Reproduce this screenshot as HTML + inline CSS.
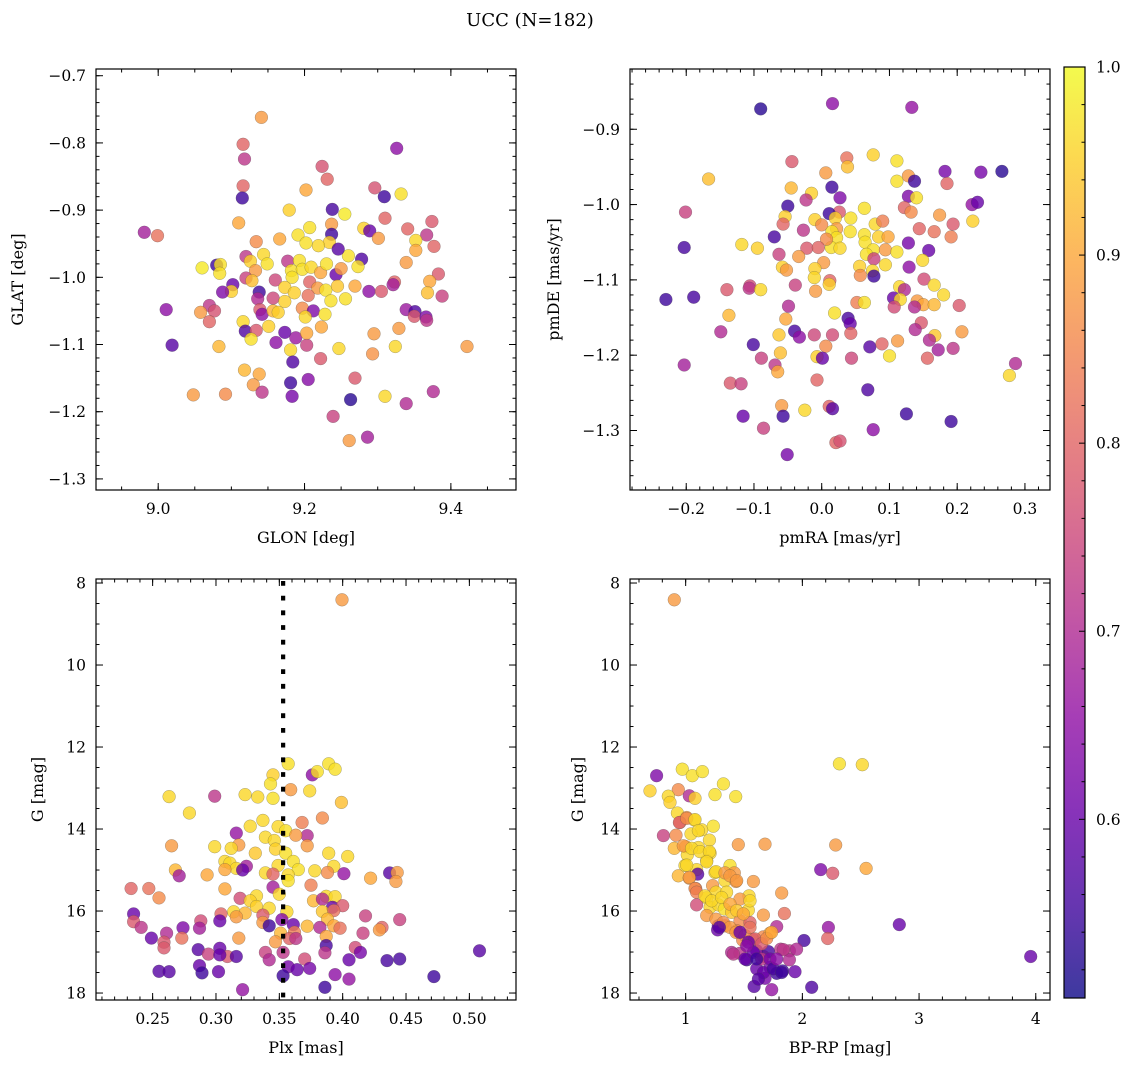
<!DOCTYPE html>
<html><head><meta charset="utf-8"><style>
html,body{margin:0;padding:0;background:#fff;}
svg{display:block;font-family:"DejaVu Serif","Liberation Serif",serif;}
</style></head><body>
<svg id="fig" width="1136" height="1067" viewBox="0 0 1136 1067" xmlns="http://www.w3.org/2000/svg">
<text x="530" y="26" font-size="18" text-anchor="middle">UCC (N=182)</text>
</svg>
<script>
// ---- Panel 1: GLON vs GLAT ----
const glon = [9.141,9.116,9.118,9.116,9.115,9.326,9.224,9.231,9.202,9.296,9.309,9.332,9.110,8.981,8.999,9.179,9.238,9.255,9.310,9.374,9.341,9.367,9.377,9.352,9.352,9.339,9.383,9.371,9.368,9.388,9.281,9.289,9.301,9.278,9.273,9.260,9.207,9.191,9.237,9.237,9.234,9.246,9.219,9.202,9.166,9.134,9.144,9.149,9.120,9.126,9.133,9.120,9.128,9.138,9.102,9.100,9.088,9.060,9.080,9.085,9.084,9.177,9.193,9.182,9.197,9.209,9.222,9.230,9.243,9.250,9.160,9.183,9.207,9.173,9.186,9.218,9.229,9.245,9.269,9.288,9.305,9.323,9.321,9.205,9.236,9.256,9.157,9.173,9.136,9.139,9.142,9.157,9.164,9.197,9.212,9.228,9.201,9.011,9.070,9.077,9.058,9.070,9.116,9.119,9.134,9.127,9.151,9.173,9.161,9.188,9.203,9.203,9.223,9.181,9.184,9.247,9.222,9.295,9.329,9.339,9.351,9.350,9.366,9.367,9.293,9.324,9.422,9.019,9.083,9.118,9.138,9.130,9.142,9.048,9.092,9.181,9.183,9.205,9.269,9.263,9.310,9.339,9.376,9.239,9.286,9.261];
const glat = [-0.762,-0.802,-0.824,-0.864,-0.882,-0.808,-0.835,-0.854,-0.870,-0.867,-0.880,-0.876,-0.919,-0.933,-0.938,-0.900,-0.899,-0.906,-0.912,-0.917,-0.928,-0.937,-0.954,-0.945,-0.960,-0.978,-0.995,-1.006,-1.023,-1.028,-0.927,-0.931,-0.942,-0.973,-0.984,-0.968,-0.926,-0.937,-0.921,-0.936,-0.948,-0.958,-0.953,-0.949,-0.943,-0.947,-0.966,-0.980,-0.969,-0.976,-0.990,-1.001,-1.005,-1.022,-1.011,-1.021,-1.022,-0.986,-0.982,-0.981,-0.994,-0.976,-0.975,-0.990,-0.988,-0.985,-0.993,-0.980,-0.996,-0.987,-1.004,-1.000,-1.007,-1.015,-1.023,-1.016,-1.019,-1.013,-1.013,-1.021,-1.021,-1.007,-1.011,-1.027,-1.035,-1.032,-1.031,-1.036,-1.032,-1.048,-1.055,-1.050,-1.052,-1.046,-1.050,-1.055,-1.059,-1.048,-1.042,-1.050,-1.052,-1.066,-1.066,-1.080,-1.079,-1.092,-1.073,-1.082,-1.097,-1.090,-1.101,-1.083,-1.074,-1.108,-1.126,-1.106,-1.121,-1.084,-1.076,-1.048,-1.051,-1.058,-1.059,-1.064,-1.114,-1.103,-1.103,-1.101,-1.103,-1.138,-1.144,-1.160,-1.171,-1.175,-1.174,-1.157,-1.177,-1.152,-1.150,-1.182,-1.177,-1.188,-1.170,-1.207,-1.238,-1.243];
const prob1 = [.88,.80,.72,.80,.55,.65,.77,.80,.90,.77,.55,.97,.90,.68,.82,.95,.56,.98,.80,.78,.80,.72,.80,.96,.90,.88,.78,.90,.93,.74,.95,.60,.88,.57,.97,.97,.97,.97,.88,.55,.95,.58,.96,.97,.90,.86,.96,.97,.72,.95,.88,.74,.93,.55,.60,.95,.63,.98,.55,.97,.97,.72,.97,.97,.97,.96,.90,.97,.60,.88,.75,.97,.80,.95,.95,.88,.97,.94,.90,.65,.78,.80,.68,.82,.97,.97,.75,.95,.70,.78,.65,.92,.95,.86,.63,.97,.96,.65,.72,.77,.88,.80,.96,.57,.78,.97,.95,.60,.65,.67,.74,.90,.90,.96,.57,.96,.78,.88,.88,.67,.57,.78,.63,.72,.87,.96,.88,.58,.92,.92,.90,.88,.72,.88,.86,.55,.62,.64,.78,.53,.96,.70,.70,.74,.68,.88];

// ---- Panel 2: pmRA vs pmDE ----
const pmra = [-.090,.016,.133,-.044,.037,.038,.076,.111,-.167,.182,.235,.266,.006,.128,.137,.111,.185,-.045,.015,-.015,-.023,.027,.128,.140,-.050,-.201,.222,.230,.122,.132,.063,.026,.011,.020,-.054,-.057,-.010,0,.022,.043,.174,.223,.194,.191,.144,.166,-.027,-.070,-.118,-.095,-.203,.015,.022,.014,.027,.007,-.022,-.005,.042,.079,.090,.063,.084,.098,.064,.076,.094,.111,.128,.158,.066,.077,-.063,-.034,.003,-.058,-.052,-.010,-.011,.056,.057,.075,.077,.094,.149,.129,.151,.012,.011,-.039,-.106,-.107,-.090,-.140,-.230,-.189,-.009,.115,.122,.166,.180,.106,.116,.107,.052,.063,.141,.150,.166,.137,.203,-.049,-.137,-.053,.019,.039,.042,.147,.138,-.149,-.063,-.040,-.033,-.011,.016,.043,.207,.167,.159,.172,.194,.156,-.101,.006,.071,.089,.112,-.061,-.007,.001,.100,.044,-.089,-.203,-.069,-.065,.286,.277,-.135,-.119,-.007,.068,-.059,-.025,.011,.016,-.116,-.057,.125,.191,-.086,.076,.021,.027,-.051];
const pmde = [-0.873,-0.866,-0.871,-0.943,-0.938,-0.950,-0.934,-0.942,-0.966,-0.956,-0.957,-0.956,-0.958,-0.962,-0.969,-0.969,-0.972,-0.978,-0.977,-0.985,-0.994,-0.991,-0.989,-0.991,-1.002,-1.010,-1.000,-0.997,-1.004,-1.010,-1.005,-1.010,-1.012,-1.018,-1.016,-1.026,-1.020,-1.027,-1.032,-1.018,-1.014,-1.022,-1.026,-1.043,-1.032,-1.036,-1.034,-1.043,-1.053,-1.058,-1.057,-1.036,-1.044,-1.057,-1.058,-1.046,-1.058,-1.057,-1.036,-1.026,-1.022,-1.040,-1.043,-1.043,-1.050,-1.060,-1.060,-1.063,-1.051,-1.061,-1.066,-1.072,-1.066,-1.069,-1.077,-1.083,-1.087,-1.085,-1.097,-1.082,-1.094,-1.088,-1.095,-1.080,-1.074,-1.083,-1.099,-1.101,-1.106,-1.107,-1.108,-1.111,-1.113,-1.113,-1.126,-1.123,-1.115,-1.109,-1.113,-1.107,-1.120,-1.124,-1.126,-1.136,-1.130,-1.130,-1.128,-1.133,-1.133,-1.136,-1.134,-1.135,-1.147,-1.152,-1.144,-1.151,-1.158,-1.157,-1.166,-1.169,-1.173,-1.168,-1.176,-1.173,-1.173,-1.171,-1.169,-1.174,-1.180,-1.193,-1.191,-1.204,-1.186,-1.188,-1.189,-1.185,-1.181,-1.197,-1.202,-1.204,-1.201,-1.204,-1.204,-1.213,-1.213,-1.222,-1.211,-1.227,-1.237,-1.238,-1.233,-1.246,-1.267,-1.273,-1.268,-1.271,-1.281,-1.281,-1.278,-1.288,-1.297,-1.299,-1.316,-1.314,-1.332];
const prob2 = [.53,.65,.66,.78,.82,.93,.95,.97,.93,.62,.62,.53,.88,.88,.55,.97,.80,.92,.55,.95,.72,.63,.63,.97,.55,.74,.66,.60,.80,.86,.97,.78,.55,.95,.95,.80,.95,.86,.88,.97,.88,.95,.78,.84,.80,.82,.72,.56,.96,.95,.56,.97,.97,.97,.96,.86,.78,.80,.97,.96,.84,.97,.95,.90,.97,.97,.88,.97,.62,.60,.97,.74,.74,.88,.88,.95,.88,.95,.96,.95,.86,.96,.55,.96,.96,.65,.76,.80,.95,.74,.76,.72,.96,.78,.55,.56,.88,.96,.70,.96,.96,.60,.96,.76,.84,.97,.88,.90,.92,.70,.78,.70,.92,.90,.97,.56,.60,.78,.70,.70,.94,.56,.65,.75,.76,.80,.88,.94,.70,.68,.72,.80,.56,.86,.58,.80,.88,.93,.95,.60,.97,.75,.74,.68,.72,.90,.70,.96,.78,.74,.80,.57,.88,.96,.80,.58,.60,.55,.55,.55,.74,.65,.80,.77,.62];

// ---- Panel 3: Plx vs G ----
const plx = [.3995,.357,.376,.380,.389,.394,.345,.343,.345,.359,.374,.263,.299,.323,.333,.399,.279,.384,.368,.337,.327,.349,.355,.316,.372,.363,.339,.346,.265,.299,.318,.312,.372,.347,.331,.355,.389,.404,.307,.311,.361,.324,.316,.307,.321,.365,.378,.349,.393,.388,.268,.271,.293,.339,.345,.357,.357,.401,.437,.443,.442,.422,.375,.233,.247,.255,.307,.345,.350,.319,.332,.327,.387,.394,.377,.384,.332,.342,.392,.400,.356,.384,.393,.235,.314,.323,.304,.316,.337,.418,.445,.235,.288,.303,.337,.388,.352,.361,.241,.274,.287,.342,.372,.382,.393,.398,.431,.429,.261,.351,.362,.249,.273,.318,.358,.363,.387,.416,.259,.347,.387,.259,.286,.303,.410,.414,.508,.294,.309,.303,.316,.339,.353,.342,.386,.370,.405,.435,.445,.287,.289,.255,.263,.302,.357,.364,.374,.353,.394,.405,.472,.386,.321];
const gmag3 = [8.41,12.41,12.68,12.60,12.41,12.54,12.68,12.90,13.25,13.04,13.07,13.21,13.20,13.16,13.22,13.35,13.61,13.73,13.84,13.79,13.93,13.94,14.04,14.10,14.16,14.15,14.20,14.28,14.41,14.43,14.39,14.47,14.41,14.49,14.59,14.59,14.59,14.67,14.79,14.83,14.79,14.91,14.96,14.99,15.00,14.99,15.02,14.89,14.91,15.06,15.00,15.14,15.12,15.07,15.10,15.12,15.26,15.09,15.07,15.06,15.28,15.20,15.37,15.45,15.45,15.68,15.46,15.42,15.59,15.69,15.63,15.75,15.64,15.65,15.75,15.71,15.89,15.93,15.91,15.87,16.02,16.01,15.99,16.07,16.02,16.05,16.07,16.14,16.10,16.12,16.21,16.26,16.24,16.24,16.28,16.20,16.21,16.33,16.40,16.41,16.42,16.36,16.37,16.40,16.36,16.42,16.40,16.46,16.54,16.54,16.52,16.66,16.66,16.66,16.67,16.67,16.62,16.54,16.76,16.75,16.84,16.90,16.94,16.91,16.89,17.01,16.97,17.05,17.11,17.07,17.11,17.01,17.01,17.19,17.02,17.17,17.19,17.21,17.17,17.33,17.51,17.47,17.48,17.48,17.36,17.43,17.40,17.58,17.55,17.66,17.60,17.86,17.92];
const prob3 = [.88,.97,.65,.97,.97,.97,.95,.97,.97,.88,.96,.96,.72,.96,.96,.93,.96,.86,.84,.96,.96,.96,.97,.66,.70,.88,.96,.96,.88,.96,.88,.96,.88,.95,.94,.97,.96,.96,.96,.96,.97,.68,.96,.90,.60,.97,.96,.96,.96,.86,.92,.68,.90,.96,.80,.96,.97,.66,.58,.88,.88,.90,.84,.80,.82,.86,.90,.68,.96,.76,.96,.95,.96,.96,.92,.70,.95,.96,.60,.78,.96,.94,.82,.60,.96,.92,.80,.88,.78,.74,.74,.78,.76,.60,.88,.92,.64,.60,.72,.63,.68,.55,.92,.70,.90,.82,.80,.88,.70,.92,.84,.60,.82,.88,.80,.72,.90,.74,.78,.88,.56,.78,.58,.60,.76,.62,.58,.74,.78,.60,.58,.74,.72,.70,.72,.76,.60,.56,.56,.60,.55,.58,.58,.60,.62,.60,.62,.55,.65,.66,.55,.55,.66];
const plxLine = [0.353];

// ---- Panel 4: BP-RP vs G ----
const bprp = [.903,2.317,2.514,.751,.971,1.057,1.143,1.323,1.251,1.429,.694,.937,1.031,1.080,.851,.866,.929,1.009,.951,1.074,1.137,1.237,1.046,.809,.917,1.203,1.451,1.680,2.286,.903,1.0,1.109,1.014,1.209,1.180,.994,1.094,1.103,2.157,2.260,2.546,.937,1.031,1.251,1.380,1.337,1.431,1.417,1.580,1.086,1.231,1.260,1.180,1.351,1.543,1.823,1.094,1.209,1.280,1.331,1.394,1.466,1.537,1.666,1.846,1.180,1.280,1.337,1.466,1.551,1.780,2.223,2.831,1.274,1.437,1.489,1.666,1.723,2.217,2.014,1.574,1.394,1.466,1.523,1.666,1.609,1.814,1.889,1.951,1.889,1.709,1.609,1.723,1.780,1.831,1.937,1.680,1.586,1.737,2.080,3.957,
 .946,1.009,1.080,1.109,.980,1.051,1.123,1.203,1.009,1.180,1.260,1.337,1.380,1.437,1.031,1.080,1.094,1.166,1.223,1.309,1.380,1.437,1.494,1.551,1.260,1.323,1.380,1.431,1.509,1.551,1.594,1.651,1.694,1.737,1.289,1.466,1.537,1.409,1.509,1.580,1.651,1.723,1.837,1.666,1.623,1.751,1.823,1.609,1.523,1.780];
const gmag4 = [8.41,12.41,12.43,12.70,12.54,12.70,12.60,12.90,13.16,13.21,13.07,13.04,13.19,13.25,13.20,13.35,13.61,13.72,13.84,13.78,14.02,13.93,14.12,14.16,14.15,14.27,14.38,14.37,14.39,14.47,14.43,14.45,14.63,14.59,14.77,14.89,14.99,15.10,14.99,15.08,14.96,15.14,15.20,15.06,14.89,15.26,15.28,15.07,15.28,15.45,15.38,15.54,15.68,15.54,15.63,15.56,15.85,15.91,15.85,15.95,16.03,15.71,15.98,16.10,16.06,16.11,16.36,16.36,16.24,16.28,16.38,16.40,16.33,16.46,16.48,16.71,16.63,16.54,16.67,16.72,16.69,17.01,17.03,17.19,17.11,16.97,16.93,16.97,16.93,17.19,16.99,17.41,17.37,17.52,17.46,17.48,17.64,17.84,17.92,17.86,17.11,
 13.84,13.74,13.77,14.04,14.41,14.47,14.55,14.55,14.88,14.80,15.04,15.07,15.14,15.26,15.18,15.45,15.54,15.63,15.75,15.67,15.83,15.99,16.07,15.75,16.20,16.28,16.40,16.52,16.60,16.40,16.68,16.80,16.67,16.52,16.40,16.52,16.76,17.05,17.17,17.01,17.17,17.17,16.94,17.50,17.66,17.41,17.50,17.17,16.85,17.17];
const prob4 = [.88,.97,.96,.63,.97,.97,.97,.97,.97,.97,.95,.86,.70,.95,.96,.95,.96,.88,.82,.96,.96,.97,.96,.74,.86,.96,.88,.88,.88,.92,.90,.96,.96,.96,.96,.96,.96,.58,.63,.78,.90,.92,.88,.96,.97,.96,.88,.88,.88,.84,.88,.96,.96,.96,.96,.88,.76,.96,.96,.97,.94,.88,.96,.88,.82,.88,.60,.88,.86,.80,.70,.66,.60,.60,.86,.86,.86,.90,.80,.56,.78,.70,.72,.55,.78,.62,.72,.72,.70,.70,.56,.60,.62,.55,.55,.60,.62,.58,.66,.57,.60,
 .80,.86,.96,.96,.88,.96,.96,.96,.96,.96,.96,.88,.88,.88,.88,.86,.84,.96,.96,.96,.90,.94,.90,.96,.88,.86,.88,.88,.86,.82,.80,.78,.86,.90,.58,.60,.60,.72,.60,.60,.72,.62,.72,.60,.58,.56,.55,.55,.65,.65];

// colorbar
const cbTicks = [0.6,0.7,0.8,0.9,1.0];
const vmin = 0.505, vmax = 1.0;

const NS = "http://www.w3.org/2000/svg";
const svg = document.getElementById('fig');
function mk(tag, attrs, parent){ const e=document.createElementNS(NS,tag); for(const k in attrs) e.setAttribute(k,attrs[k]); (parent||svg).appendChild(e); return e; }
const stops = ["#0d0887","#41049d","#6a00a8","#8f0da4","#b12a90","#cc4778","#e16462","#f2844b","#fca636","#fcce25","#f0f921"];
function hex(h){return [parseInt(h.substr(1,2),16),parseInt(h.substr(3,2),16),parseInt(h.substr(5,2),16)];}
function plasma(t){ t=Math.max(0,Math.min(1,t)); const f=t*10, i=Math.min(9,Math.floor(f)), u=f-i; const a=hex(stops[i]), b=hex(stops[i+1]); return 'rgb('+a.map((v,k)=>Math.round(v+(b[k]-v)*u)).join(',')+')'; }
function cmap(v){ return plasma((v-vmin)/(vmax-vmin)); }
function fmt(v,d){ const s=Math.abs(v).toFixed(d); return (v< -1e-9?'\u2212':'')+s; }

function panel(cfg){
  const g = mk('g',{});
  
  
  const sx = v => cfg.x0 + (v-cfg.xmin)/(cfg.xmax-cfg.xmin)*cfg.w;
  const sy = v => cfg.y0 + (v-cfg.ytop)/(cfg.ybot-cfg.ytop)*cfg.h;
  const pg = mk('g',{},g);
  
  
  const n = Math.min(cfg.xs.length, cfg.ys.length, cfg.cs.length);
  for(let i=0;i<n;i++){
    const c = mk('circle',{cx:sx(cfg.xs[i]).toFixed(1),cy:sy(cfg.ys[i]).toFixed(1),r:6.4,fill:cmap(cfg.cs[i]),'fill-opacity':0.8,stroke:'#444','stroke-opacity':0.45,'stroke-width':0.5},pg);
    
    
  }
  if(cfg.vline){
    const l = mk('line',{x1:sx(cfg.vline[0]),x2:sx(cfg.vline[0]),y1:cfg.y0+2,y2:cfg.y0+cfg.h,stroke:'#000','stroke-width':4.2,'stroke-dasharray':'4.8 9.9'},g);
    
    
  }
  const tg = mk('g',{stroke:'#000','stroke-width':1},g);
  const eps=1e-9;
  function ticksX(step, len){
    const s=Math.ceil(cfg.xmin/step-eps);
    for(let k=s;k*step<=cfg.xmax+eps;k++){ const x=sx(k*step);
      mk('line',{x1:x,x2:x,y1:cfg.y0+cfg.h,y2:cfg.y0+cfg.h-len},tg);
      mk('line',{x1:x,x2:x,y1:cfg.y0,y2:cfg.y0+len},tg); }
  }
  function ticksY(step, len){
    const lo=Math.min(cfg.ytop,cfg.ybot), hi=Math.max(cfg.ytop,cfg.ybot);
    const s=Math.ceil(lo/step-eps);
    for(let k=s;k*step<=hi+eps;k++){ const y=sy(k*step);
      mk('line',{x1:cfg.x0,x2:cfg.x0+len,y1:y,y2:y},tg);
      mk('line',{x1:cfg.x0+cfg.w,x2:cfg.x0+cfg.w-len,y1:y,y2:y},tg); }
  }
  ticksX(cfg.xminor,3.5); ticksX(cfg.xmajor,7);
  ticksY(cfg.yminor,3.5); ticksY(cfg.ymajor,7);
  cfg.xticks.forEach(v=>{ const t=mk('text',{x:sx(v),y:cfg.y0+cfg.h+24,'font-size':15.5,'text-anchor':'middle'},g); t.textContent=fmt(v,cfg.xd);
      });
  cfg.yticks.forEach(v=>{ const t=mk('text',{x:cfg.x0-10,y:sy(v)+5.5,'font-size':15.5,'text-anchor':'end'},g); t.textContent=fmt(v,cfg.yd);
      });
  const fr = mk('rect',{x:cfg.x0,y:cfg.y0,width:cfg.w,height:cfg.h,fill:'none',stroke:'#000','stroke-width':1.2},g);
  
  
  const xl = mk('text',{x:cfg.x0+cfg.w/2,y:cfg.y0+cfg.h+53,'font-size':16,'text-anchor':'middle'},g); xl.textContent=cfg.xlabel;
   
  const yx = cfg.ylabX, yy = cfg.y0+cfg.h/2;
  const yl = mk('text',{x:yx,y:yy,'font-size':16,'text-anchor':'middle',transform:'rotate(-90 '+yx+' '+yy+')'},g); yl.textContent=cfg.ylabel;
   
}

panel({name:'glon-glat-panel',x0:96,y0:69,w:420,h:421,xmin:8.915,xmax:9.489,ytop:-0.690,ybot:-1.3165,
  xmajor:0.2,xminor:0.05,ymajor:0.1,yminor:0.02,xticks:[9.0,9.2,9.4],xd:1,yticks:[-0.7,-0.8,-0.9,-1.0,-1.1,-1.2,-1.3],yd:1,
  xs:glon,ys:glat,cs:prob1,xlabel:'GLON [deg]',ylabel:'GLAT [deg]',ylabX:23});
panel({name:'pm-panel',x0:630,y0:69,w:420,h:421,xmin:-0.283,xmax:0.337,ytop:-0.820,ybot:-1.379,
  xmajor:0.1,xminor:0.02,ymajor:0.1,yminor:0.02,xticks:[-0.2,-0.1,0.0,0.1,0.2,0.3],xd:1,yticks:[-0.9,-1.0,-1.1,-1.2,-1.3],yd:1,
  xs:pmra,ys:pmde,cs:prob2,xlabel:'pmRA [mas/yr]',ylabel:'pmDE [mas/yr]',ylabX:559});
panel({name:'plx-g-panel',x0:96,y0:579,w:420,h:421,xmin:0.2053,xmax:0.5368,ytop:7.902,ybot:18.17,
  xmajor:0.05,xminor:0.01,ymajor:2,yminor:0.5,xticks:[0.25,0.30,0.35,0.40,0.45,0.50],xd:2,yticks:[8,10,12,14,16,18],yd:0,
  xs:plx,ys:gmag3,cs:prob3,vline:plxLine,xlabel:'Plx [mas]',ylabel:'G [mag]',ylabX:43});
panel({name:'cmd-panel',x0:630,y0:579,w:420,h:421,xmin:0.523,xmax:4.122,ytop:7.902,ybot:18.17,
  xmajor:1,xminor:0.2,ymajor:2,yminor:0.5,xticks:[1,2,3,4],xd:0,yticks:[8,10,12,14,16,18],yd:0,
  xs:bprp,ys:gmag4,cs:prob4,xlabel:'BP-RP [mag]',ylabel:'G [mag]',ylabX:583});

(function(){
  const x0=1064,w=21,y0=67,h=931;
  const cg = mk('g',{});
  
  
  const defs = mk('defs',{},cg);
  const lg = mk('linearGradient',{id:'cbg',x1:0,y1:1,x2:0,y2:0},defs);
  for(let i=0;i<=20;i++){ mk('stop',{offset:(i/20),'stop-color':plasma(i/20),'stop-opacity':0.8},lg); }
  mk('rect',{x:x0,y:y0,width:w,height:h,fill:'url(#cbg)'},cg);
  const sy = v => y0 + (vmax-v)/(vmax-vmin)*h;
  for(let k=26;k<=50;k++){ const v=k*0.02; if(v<vmin-1e-9) continue; const y=sy(v); const major=Math.abs(v*10-Math.round(v*10))<1e-6;
    mk('line',{x1:x0+w,x2:x0+w-(major?6:3.5),y1:y,y2:y,stroke:'#000','stroke-width':1},cg); }
  cbTicks.forEach(v=>{ const t=mk('text',{x:x0+w+11,y:sy(v)+5.5,'font-size':15.5},cg); t.textContent=v.toFixed(1);
      });
  mk('rect',{x:x0,y:y0,width:w,height:h,fill:'none',stroke:'#000','stroke-width':1.2},cg);
})();
</script>
</body></html>
